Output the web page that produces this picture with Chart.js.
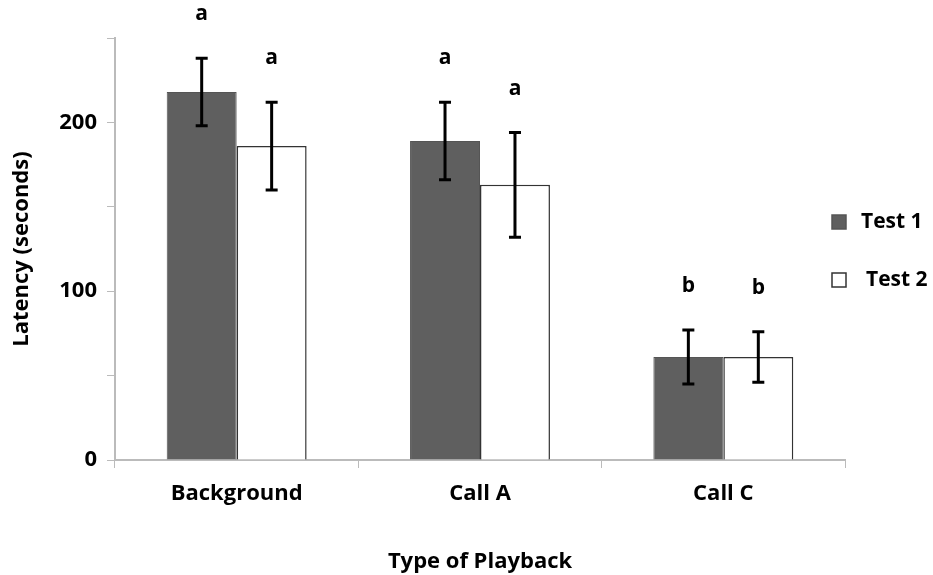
<!DOCTYPE html>
<html><head><meta charset="utf-8">
<script src="https://cdn.jsdelivr.net/npm/chart.js@4"></script>
<style>html,body{margin:0;padding:0;background:#fff}#wrap{width:933px;height:575px}</style>
</head><body><div id="wrap"><canvas id="c" width="933" height="575"></canvas></div>
<script>
const categories = ["Background", "Call A", "Call C"];
const test1 = [218, 189, 61];
const test2 = [186, 163, 61];
const test1Err = [20, 23, 16];
const test2Err = [26, 31, 15];
const test1Letters = ["a", "a", "b"];
const test2Letters = ["a", "a", "b"];
const yTicks = [0, 100, 200];

const FONT = "'Open Sans', sans-serif";
const FS = 22;

const errPlugin = {
  id: 'err',
  afterDatasetsDraw(chart) {
    const ctx = chart.ctx, y = chart.scales.y;
    const errs = [test1Err, test2Err], letters = [test1Letters, test2Letters];
    chart.data.datasets.forEach((ds, di) => {
      const meta = chart.getDatasetMeta(di);
      meta.data.forEach((bar, i) => {
        const v = ds.data[i], e = errs[di][i];
        const yt = y.getPixelForValue(v + e), yb = y.getPixelForValue(v - e);
        ctx.save();
        ctx.strokeStyle = '#000'; ctx.lineWidth = 3;
        ctx.beginPath();
        ctx.moveTo(bar.x, yt); ctx.lineTo(bar.x, yb);
        ctx.moveTo(bar.x - 6, yt); ctx.lineTo(bar.x + 6, yt);
        ctx.moveTo(bar.x - 6, yb); ctx.lineTo(bar.x + 6, yb);
        ctx.stroke();
        ctx.fillStyle = '#000';
        ctx.font = "bold 21px " + FONT;
        ctx.textAlign = 'center'; ctx.textBaseline = 'middle';
        ctx.fillText(letters[di][i], bar.x, yt - 44);
        ctx.restore();
      });
    });
    // legend
    ctx.save();
    const items = [[0, 222], [1, 280]];
    items.forEach(([di, ly]) => {
      const ds = chart.data.datasets[di];
      ctx.fillStyle = ds.backgroundColor;
      ctx.strokeStyle = ds.borderColor;
      ctx.lineWidth = 1.5;
      ctx.fillRect(832, ly - 7, 14, 14);
      ctx.strokeRect(832, ly - 7, 14, 14);
      ctx.fillStyle = '#000';
      ctx.font = "bold 21px " + FONT;
      ctx.textAlign = 'left'; ctx.textBaseline = 'middle';
      ctx.fillText(ds.label, di === 0 ? 861 : 866, ly);
    });
    ctx.restore();
  }
};

new Chart(document.getElementById('c'), {
  type: 'bar',
  data: {
    labels: categories,
    datasets: [
      { label: 'Test 1', data: test1, backgroundColor: '#5f5f5f', borderColor: '#555', borderWidth: 1,
        barPercentage: 1, categoryPercentage: 0.575 },
      { label: 'Test 2', data: test2, backgroundColor: '#ffffff', borderColor: '#333', borderWidth: 1.5,
        barPercentage: 1, categoryPercentage: 0.575 }
    ]
  },
  options: {
    responsive: false,
    animation: false,
    layout: { padding: { top: 38, right: 88, left: 0, bottom: 0 } },
    plugins: { legend: { display: false }, tooltip: { enabled: false } },
    scales: {
      x: {
        afterFit: s => { s.height = 115; },
        grid: { display: true, offset: true, drawOnChartArea: false, drawTicks: true, tickLength: 8, color: '#bbb' },
        border: { color: '#bbb', width: 2 },
        ticks: { color: '#000', font: { family: FONT, weight: 'bold', size: FS }, padding: 13 },
        title: { display: true, text: 'Type of Playback', color: '#000', font: { family: FONT, weight: 'bold', size: FS }, padding: { top: 20, bottom: 0 } }
      },
      y: {
        min: 0, max: 250,
        afterFit: s => { s.width = 115; },
        grid: { display: true, drawOnChartArea: false, drawTicks: true, tickLength: 8, color: '#bbb' },
        border: { color: '#bbb', width: 2 },
        ticks: { stepSize: 50, color: '#000', font: { family: FONT, weight: 'bold', size: FS }, padding: 10,
          callback: v => yTicks.includes(v) ? String(v) : '' },
        title: { display: true, text: 'Latency (seconds)', color: '#000', font: { family: FONT, weight: 'bold', size: FS }, padding: { top: 9, bottom: 10 } }
      }
    }
  },
  plugins: [errPlugin]
});
</script>
</body></html>
